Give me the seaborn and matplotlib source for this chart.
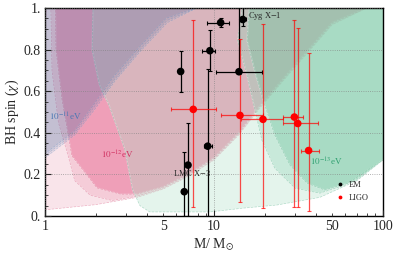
import numpy as np
import pandas as pd
import matplotlib
matplotlib.use("Agg")
import matplotlib.pyplot as plt
import seaborn as sns
from matplotlib.ticker import FixedLocator, FuncFormatter

# ---------------------------------------------------------------------------
# Data (M in solar masses, chi = BH spin)
# ---------------------------------------------------------------------------
# EM measurements
em_mass = [6.35, 9.46, 10.95, 14.8, 14.06, 9.18, 7.02, 6.67]
em_spin = [0.695, 0.795, 0.93, 0.945, 0.694, 0.336, 0.245, 0.117]
em_xlo = [0.0, 0.99, 1.85, 0.6, 3.76, 0.5, 0.0, 0.0]
em_xhi = [0.0, 0.64, 1.35, 0.6, 5.24, 0.6, 0.0, 0.0]
em_ylo = [0.10, 0.10, 0.02, 0.03, 0.01, 0.336, 0.245, 0.117]
em_yhi = [0.10, 0.10, 0.02, 0.10, 0.31, 0.37, 0.20, 0.19]

# LIGO events
ligo_mass = [7.54, 14.25, 19.5, 29.9, 31.3, 36.3]
ligo_spin = [0.513, 0.484, 0.465, 0.476, 0.445, 0.315]
ligo_xlo = [2.0, 3.29, 5.1, 4.2, 5.6, 3.7]
ligo_xhi = [2.73, 5.35, 6.2, 3.9, 9.7, 5.6]
ligo_ylo = [0.468, 0.415, 0.428, 0.431, 0.40, 0.29]
ligo_yhi = [0.43, 0.368, 0.459, 0.467, 0.458, 0.47]

# exclusion regions, three layers per boson mass (boundary polygons)
blue_light_m = [0.5, 0.5, 1.0, 1.5, 2.0, 2.6, 3.65, 5.3, 7.9, 9.0]
blue_light_chi = [1.05, 0.15, 0.28, 0.39, 0.52, 0.65, 0.79, 0.93, 1.0, 1.05]
blue_med_m = [0.5, 0.5, 1.0, 1.5, 1.98, 2.6, 3.65, 5.27, 7.9, 8.8]
blue_med_chi = [1.05, 0.16, 0.29, 0.40, 0.53, 0.66, 0.80, 0.94, 1.0, 1.05]
blue_dark_m = [0.5, 0.5, 1.0, 1.5, 1.96, 2.55, 3.6, 5.2, 7.7, 8.5]
blue_dark_chi = [1.05, 0.17, 0.30, 0.41, 0.54, 0.67, 0.81, 0.95, 1.0, 1.05]

crim_light_m = [1.03, 1.0, 0.9, 0.9, 1.0, 2.0, 3.5, 5.0, 7.0, 10, 14, 18.7, 25, 32, 50, 80, 90]
crim_light_chi = [1.05, 0.9, 0.6, 0.02, 0.03, 0.055, 0.09, 0.13, 0.19, 0.27, 0.39, 0.52, 0.64, 0.74, 0.92, 1.0, 1.05]
crim_med_m = [1.08, 1.1, 1.2, 1.37, 1.5, 1.85, 2.5, 3.5, 5.0, 7.0, 10, 14, 18.7, 25, 32, 50, 80, 90]
crim_med_chi = [1.05, 0.7, 0.45, 0.29, 0.17, 0.10, 0.075, 0.095, 0.135, 0.195, 0.275, 0.395, 0.525, 0.645, 0.745, 0.925, 1.0, 1.05]
crim_dark_m = [1.15, 1.16, 1.26, 1.44, 2.03, 2.8, 3.5, 5.0, 7.0, 10, 14, 18.7, 25, 32, 50, 80, 90]
crim_dark_chi = [1.05, 0.8, 0.56, 0.29, 0.135, 0.105, 0.105, 0.14, 0.2, 0.28, 0.4, 0.53, 0.65, 0.75, 0.93, 1.0, 1.05]

green_light_m = [1.93, 1.9, 2.1, 2.4, 2.97, 3.3, 3.65, 4.17, 9.5, 14.8, 23.5, 42.3, 63.6, 100, 150, 150]
green_light_chi = [1.05, 0.8, 0.63, 0.53, 0.32, 0.125, 0.05, 0.02, 0.02, 0.038, 0.053, 0.09, 0.155, 0.27, 0.35, 1.05]
green_med_m = [14.9, 13.8, 15.7, 17.5, 19.2, 22.9, 30.2, 42.3, 60, 100, 150, 150]
green_med_chi = [1.05, 0.844, 0.676, 0.508, 0.365, 0.23, 0.134, 0.11, 0.15, 0.27, 0.35, 1.05]
green_dark_m = [16.3, 15.7, 17.7, 20.0, 22.9, 28.1, 35.5, 45.2, 70, 100, 150, 150]
green_dark_chi = [1.05, 0.844, 0.676, 0.532, 0.388, 0.245, 0.158, 0.125, 0.17, 0.27, 0.35, 1.05]

# colours: label colour per boson mass, fill colour per layer
BLUE = "#4a78b4"
CRIMSON = "#d03060"
GREEN = "#2fa070"
blue_fills = ["#4a6aa0", "#4a6aa0", "#4a6aa0"]
crim_fills = ["#eeb2c3", "#f0a2b7", "#e54c7d"]
green_fills = ["#b2e0c9", "#94d7b9", "#6dc29b"]

# ---------------------------------------------------------------------------
# Style
# ---------------------------------------------------------------------------
sns.set_theme(style="ticks")
plt.rcParams["font.family"] = ["Liberation Serif", "DejaVu Serif"]
plt.rcParams["mathtext.fontset"] = "stix"

fig = plt.figure(figsize=(3.96, 2.6), dpi=100)
ax = fig.add_axes([0.1136, 0.169, 0.8535, 0.80])

# (boundary m, boundary chi, fill colour, edge colour, alpha)
layers = [
    (crim_light_m, crim_light_chi, crim_fills[0], CRIMSON, 0.35),
    (crim_med_m, crim_med_chi, crim_fills[1], CRIMSON, 0.35),
    (crim_dark_m, crim_dark_chi, crim_fills[2], CRIMSON, 0.35),
    (green_light_m, green_light_chi, green_fills[0], GREEN, 0.35),
    (green_med_m, green_med_chi, green_fills[1], GREEN, 0.35),
    (green_dark_m, green_dark_chi, green_fills[2], GREEN, 0.35),
    (blue_light_m, blue_light_chi, blue_fills[0], BLUE, 0.11),
    (blue_med_m, blue_med_chi, blue_fills[1], BLUE, 0.11),
    (blue_dark_m, blue_dark_chi, blue_fills[2], BLUE, 0.11),
]
for m, chi, fc, ec, a in layers:
    ax.fill(m, chi, facecolor=fc, alpha=a, zorder=1)
    ax.fill(m, chi, facecolor="none", edgecolor=ec, alpha=0.35,
            linestyle="--", lw=0.5, zorder=1)

# error bars
ax.errorbar(em_mass, em_spin, xerr=[em_xlo, em_xhi], yerr=[em_ylo, em_yhi],
            fmt="none", ecolor="black", elinewidth=0.9, capsize=1.5,
            capthick=0.8, zorder=3)
ax.errorbar(ligo_mass, ligo_spin, xerr=[ligo_xlo, ligo_xhi],
            yerr=[ligo_ylo, ligo_yhi], fmt="none", ecolor=(1, 0, 0, 0.7),
            elinewidth=0.9, capsize=1.5, capthick=0.8, zorder=3)

points = pd.DataFrame({
    "mass": em_mass + ligo_mass,
    "spin": em_spin + ligo_spin,
    "source": ["EM"] * len(em_mass) + ["LIGO"] * len(ligo_mass),
})
sns.scatterplot(data=points, x="mass", y="spin", hue="source",
                palette={"EM": "black", "LIGO": "red"}, s=30,
                edgecolor="none", ax=ax, zorder=4)

# labels in the plot
ax.text(15.9, 0.96, "Cyg X$-$1", fontsize=6, va="center", ha="left", zorder=5)
ax.text(5.72, 0.206, "LMC X$-$3", fontsize=6, va="center", ha="left", zorder=5)
ax.text(1.055, 0.475, r"$10^{-11}$eV", fontsize=6.5, color=BLUE, va="center")
ax.text(2.14, 0.293, r"$10^{-12}$eV", fontsize=6.5, color=CRIMSON, va="center")
ax.text(37, 0.26, r"$10^{-13}$eV", fontsize=6.5, color=GREEN, va="center")

# axes
ax.set_xscale("log")
ax.set_xlim(1, 100)
ax.set_ylim(0, 1)
ax.xaxis.set_major_locator(FixedLocator([1, 10, 100]))
ax.xaxis.set_minor_locator(FixedLocator([2, 3, 4, 5, 6, 7, 8, 9, 20, 30, 40, 50, 60, 70, 80, 90]))
ax.xaxis.set_major_formatter(FuncFormatter(lambda v, p: f"{v:g}"))
ax.xaxis.set_minor_formatter(FuncFormatter(lambda v, p: f"{v:g}" if v in (5, 50) else ""))
ax.yaxis.set_major_locator(FixedLocator([0, 0.2, 0.4, 0.6, 0.8, 1.0]))
ax.yaxis.set_minor_locator(FixedLocator(np.arange(0.05, 1.0, 0.05)))
ax.yaxis.set_major_formatter(FuncFormatter(lambda v, p: "0." if v == 0 else ("1." if v == 1 else f"{v:.1f}")))
ax.tick_params(which="both", direction="in", labelsize=10, pad=3)
ax.tick_params(which="major", length=4, width=0.8)
ax.tick_params(which="minor", length=2, width=0.6)
ax.tick_params(axis="x", which="minor", labelsize=10, pad=3)

ax.set_axisbelow(False)
ax.grid(True, which="major", linestyle=":", color="gray", lw=0.6, alpha=0.8)
for s in ax.spines.values():
    s.set_linewidth(1.0)
    s.set_color("black")

ax.set_xlabel(r"M/ M$_{\odot}$", fontsize=10, labelpad=2)
ax.set_ylabel(r"BH spin ($\chi$)", fontsize=10, labelpad=2)

ax.legend(loc="lower right", frameon=False, fontsize=6, markerscale=0.5,
          handletextpad=0.0, labelspacing=0.6, borderaxespad=1.3)

fig.savefig("out.png", dpi=100)
